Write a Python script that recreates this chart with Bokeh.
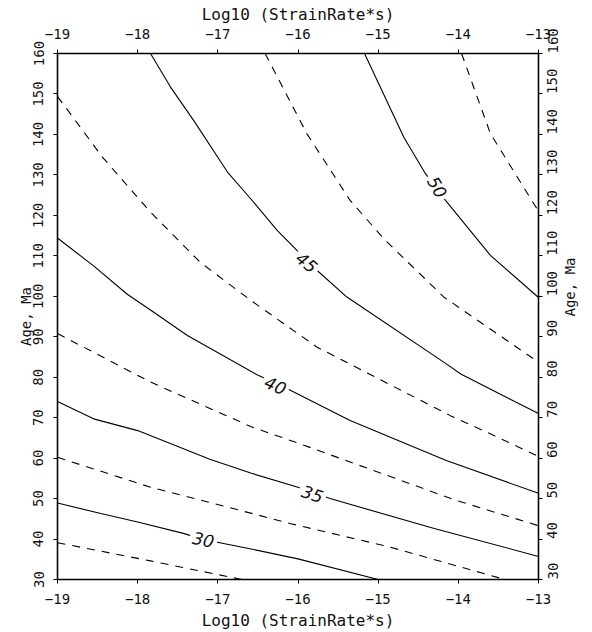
import math
from bokeh.plotting import figure
from bokeh.models import Range1d, LinearAxis, FixedTicker
from bokeh.core.properties import value
from bokeh.embed import file_html
from bokeh.resources import INLINE

# ---- data ----
x_ticks = [-19, -18, -17, -16, -15, -14, -13]
y_ticks = [30, 40, 50, 60, 70, 80, 90, 100, 110, 120, 130, 140, 150, 160]

# solid contours
c30_x = [-19.0, -18.46, -18.0, -17.43, -17.18, -16.6, -16.0, -15.0]
c30_y = [48.9, 46.3, 44.2, 41.4, 39.9, 37.6, 35.1, 30.0]
c35_x = [-19.0, -18.55, -18.0, -17.1, -16.59, -16.0, -15.6, -14.3, -13.0]
c35_y = [74.0, 69.7, 66.8, 59.7, 56.3, 52.8, 50.0, 42.6, 35.7]
c40_x = [-19.0, -18.55, -18.13, -17.84, -17.38, -16.51, -16.09, -15.35, -14.15, -13.0]
c40_y = [114.4, 107.5, 100.5, 96.6, 90.3, 80.6, 76.7, 69.3, 59.4, 51.3]
c45_x = [-17.84, -17.59, -17.3, -16.88, -16.59, -16.26, -16.01, -15.74, -15.39, -14.15, -13.97, -13.0]
c45_y = [160.0, 151.7, 143.4, 130.7, 124.1, 116.3, 111.3, 106.0, 99.8, 83.3, 80.8, 71.0]
c50_x = [-15.17, -14.68, -14.41, -14.16, -13.6, -13.0]
c50_y = [160.0, 139.3, 130.3, 123.7, 110.1, 99.7]

# dashed contours
d27_x = [-19.0, -17.84, -16.7]
d27_y = [39.1, 34.6, 30.0]
d32_x = [-19.0, -17.84, -16.59, -16.09, -14.85, -13.42]
d32_y = [60.2, 52.8, 46.4, 43.8, 38.0, 30.0]
d37_x = [-19.0, -17.84, -16.59, -15.97, -14.05, -13.0]
d37_y = [90.8, 78.8, 67.8, 63.5, 49.7, 43.3]
d42_x = [-19.0, -18.44, -17.84, -17.22, -16.59, -15.76, -14.1, -13.6, -13.0]
d42_y = [149.4, 134.4, 120.8, 108.4, 99.0, 87.4, 70.5, 66.0, 60.4]
d47_x = [-16.41, -15.89, -15.35, -14.92, -14.18, -13.0]
d47_y = [160.0, 140.2, 123.7, 114.0, 99.8, 83.7]
d52_x = [-13.96, -13.6, -13.0]
d52_y = [160.0, 140.2, 121.0]

label_text = ["30", "35", "40", "45", "50"]
label_x = [-17.18, -15.82, -16.28, -15.89, -14.26]
label_y = [39.9, 51.2, 78.0, 108.4, 127.0]

# ---- figure ----
p = figure(
    frame_width=481, frame_height=526,
    x_range=Range1d(-19, -13), y_range=Range1d(30, 160),
    output_backend="svg", toolbar_location=None,
    min_border_left=57, min_border_right=46,
    min_border_top=53, min_border_bottom=45,
    background_fill_color="white", border_fill_color="white",
)
p.outline_line_color = "black"
p.outline_line_width = 1.2
p.xgrid.visible = False
p.ygrid.visible = False
p.xaxis.visible = False
p.yaxis.visible = False

mono = "DejaVu Sans Mono"

def style_axis(ax, label_size):
    ax.axis_line_color = "black"
    ax.axis_line_width = 1.4
    ax.major_tick_line_color = "black"
    ax.major_tick_in = 0
    ax.major_tick_out = 4
    ax.minor_tick_line_color = None
    ax.major_label_text_font = mono
    ax.major_label_text_font_size = "14px"
    ax.major_label_text_color = "#111111"
    ax.axis_label_text_font = mono
    ax.axis_label_text_font_size = label_size
    ax.axis_label_text_font_style = "normal"
    ax.axis_label_text_color = "#111111"

xt = FixedTicker(ticks=x_ticks)
yt = FixedTicker(ticks=y_ticks)
xlabel = "Log10 (StrainRate*s)"
ylabel = "Age, Ma"

bottom = LinearAxis(ticker=xt, axis_label=xlabel)
top = LinearAxis(ticker=xt, axis_label=xlabel)
left = LinearAxis(ticker=yt, axis_label=ylabel)
right = LinearAxis(ticker=yt, axis_label=ylabel)
style_axis(bottom, "16px")
style_axis(top, "16px")
style_axis(left, "14px")
style_axis(right, "14px")

bottom.major_label_standoff = 10
bottom.axis_label_standoff = 4
top.major_label_standoff = 11
top.axis_label_standoff = 2
left.major_label_orientation = "vertical"
right.major_label_orientation = math.pi / 2
right.axis_label_orientation = math.pi / 2
left.major_label_standoff = 10
left.axis_label_standoff = -3
right.major_label_standoff = 10
right.axis_label_standoff = 4

p.add_layout(bottom, "below")
p.add_layout(top, "above")
p.add_layout(left, "left")
p.add_layout(right, "right")

solid = [(c30_x, c30_y), (c35_x, c35_y), (c40_x, c40_y), (c45_x, c45_y), (c50_x, c50_y)]
dashed = [(d27_x, d27_y), (d32_x, d32_y), (d37_x, d37_y), (d42_x, d42_y), (d47_x, d47_y), (d52_x, d52_y)]
for xs, ys in solid:
    p.line(xs, ys, line_color="black", line_width=1.1)
for xs, ys in dashed:
    p.line(xs, ys, line_color="black", line_width=1.1, line_dash="8 7")

label_angle = [-12, -18, -24, -40, -60]
p.text(x=label_x, y=label_y, text=label_text, angle=label_angle, angle_units="deg",
       text_font=value("DejaVu Sans"), text_font_style="italic", text_font_size="17px",
       text_color="#111111", text_align="center", text_baseline="middle",
       background_fill_color="white", padding=3)

open("out.html", "w").write(file_html(p, INLINE))
